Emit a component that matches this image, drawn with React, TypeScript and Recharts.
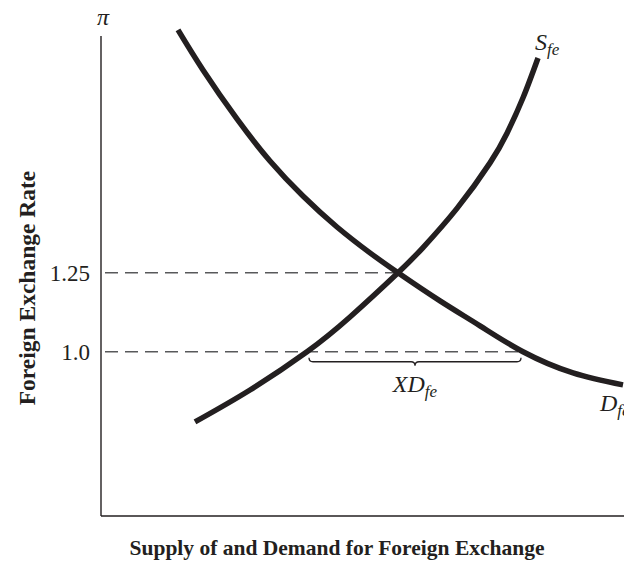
import { LineChart, Line, XAxis, YAxis, ReferenceLine } from "recharts";

// quantity of foreign exchange (0-100) and foreign exchange rate
const demandQ = [14.72, 19.5, 26.0, 32.31, 38.62, 45.12, 51.43, 56.79, 64.82, 72.47, 80.69, 90.25, 99.81];
const demandRate = [2.019, 1.892, 1.737, 1.604, 1.493, 1.395, 1.313, 1.25, 1.161, 1.082, 1.0, 0.933, 0.895];

const supplyQ = [17.97, 28.49, 39.39, 47.61, 56.79, 61.57, 68.07, 74.38, 77.63, 80.69, 83.56];
const supplyRate = [0.778, 0.879, 1.0, 1.11, 1.25, 1.33, 1.454, 1.598, 1.692, 1.804, 1.93];

const rateTicks = [1.0, 1.25];
const rateTickLabels = ["1.0", "1.25"];

const equilibriumQ = 56.79;
const equilibriumRate = 1.25;
const pegRate = 1.0;
const supplyAtPeg = 39.39;
const demandAtPeg = 80.69;

const yAxisTop = 2.0;
const yMin = 0.48;

const INK = "#231f20";
const SERIF = "'Liberation Serif', 'Times New Roman', serif";

const demandData = demandQ.map((q, i) => ({ q, rate: demandRate[i] }));
const supplyData = supplyQ.map((q, i) => ({ q, rate: supplyRate[i] }));

function curveLabel(last: number, main: string, sub: string, dx: number, dy: number) {
  return (props: any) => {
    if (props.index !== last) return null;
    return (
      <text x={props.x + dx} y={props.y + dy} fontFamily={SERIF} fontStyle="italic" fontSize={24} fill={INK}>
        {main}
        <tspan fontSize={17} dy={5}>{sub}</tspan>
      </text>
    );
  };
}

function App() {
  return (
    <div style={{ position: "absolute", left: 0, top: 0 }}>
      <LineChart width={624} height={580} margin={{ top: 16, right: 0, bottom: 0, left: 0 }}>
        <XAxis
          dataKey="q"
          type="number"
          domain={[0, 100]}
          tick={false}
          tickLine={false}
          height={64}
          axisLine={{ stroke: INK, strokeWidth: 1.4 }}
          label={{
            content: () => (
              <text x={337} y={555} textAnchor="middle" fontFamily={SERIF} fontWeight="bold" fontSize={21.5} fill={INK}>
                Supply of and Demand for Foreign Exchange
              </text>
            ),
          }}
        />
        <YAxis
          dataKey="rate"
          type="number"
          domain={[yMin, 2.063]}
          ticks={rateTicks}
          tickFormatter={(v: number) => rateTickLabels[rateTicks.indexOf(v)]}
          axisLine={false}
          tickLine={false}
          tickSize={0}
          tickMargin={11}
          width={101}
          tick={{ fontFamily: SERIF, fontSize: 23, fill: INK }}
          label={{
            content: () => (
              <text
                x={0}
                y={0}
                transform="translate(27 288) rotate(-90)"
                textAnchor="middle"
                dominantBaseline="central"
                fontFamily={SERIF}
                fontWeight="bold"
                fontSize={23.5}
                fill={INK}
              >
                Foreign Exchange Rate
              </text>
            ),
          }}
        />

        {/* vertical axis with the pi symbol on top */}
        <ReferenceLine
          segment={[{ x: 0, y: yMin }, { x: 0, y: yAxisTop }]}
          stroke={INK}
          strokeWidth={1.4}
          shape={(p: any) => {
            const top = Math.min(p.y1, p.y2);
            return (
              <g>
                <line x1={p.x1} y1={p.y1} x2={p.x2} y2={p.y2} stroke={INK} strokeWidth={1.4} />
                <text x={p.x1 + 2} y={top - 11} textAnchor="middle" fontFamily={SERIF} fontStyle="italic" fontSize={24} fill={INK}>
                  π
                </text>
              </g>
            );
          }}
        />

        <ReferenceLine
          segment={[{ x: 0, y: equilibriumRate }, { x: equilibriumQ, y: equilibriumRate }]}
          stroke="#58595b"
          strokeWidth={1.5}
          strokeDasharray="13 7"
          strokeDashoffset={16}
        />
        <ReferenceLine
          segment={[{ x: 0, y: pegRate }, { x: demandAtPeg, y: pegRate }]}
          stroke="#58595b"
          strokeWidth={1.5}
          strokeDasharray="13 7"
          strokeDashoffset={16}
        />

        {/* brace marking the excess demand at the pegged rate */}
        <ReferenceLine
          segment={[{ x: supplyAtPeg, y: pegRate }, { x: demandAtPeg, y: pegRate }]}
          shape={(p: any) => {
            const x1 = Math.min(p.x1, p.x2) + 2;
            const x2 = Math.max(p.x1, p.x2) - 2;
            const y = p.y1;
            const m = (x1 + x2) / 2;
            const d = `M ${x1} ${y + 6} Q ${x1} ${y + 10} ${x1 + 4} ${y + 10} L ${m - 4} ${y + 10} Q ${m} ${y + 10} ${m} ${y + 14} Q ${m} ${y + 10} ${m + 4} ${y + 10} L ${x2 - 4} ${y + 10} Q ${x2} ${y + 10} ${x2} ${y + 6}`;
            return (
              <g>
                <path d={d} fill="none" stroke={INK} strokeWidth={1.3} />
                <text x={m} y={y + 40} textAnchor="middle" fontFamily={SERIF} fontStyle="italic" fontSize={24} fill={INK}>
                  XD
                  <tspan fontSize={17} dy={5}>fe</tspan>
                </text>
              </g>
            );
          }}
        />

        <Line
          data={demandData}
          dataKey="rate"
          type="natural"
          stroke={INK}
          strokeWidth={5.5}
          dot={false}
          isAnimationActive={false}
          label={curveLabel(demandData.length - 1, "D", "fe", -23, 26)}
        />
        <Line
          data={supplyData}
          dataKey="rate"
          type="natural"
          stroke={INK}
          strokeWidth={5.5}
          dot={false}
          isAnimationActive={false}
          label={curveLabel(supplyData.length - 1, "S", "fe", -3, -8)}
        />
      </LineChart>
    </div>
  );
}

export default App;
